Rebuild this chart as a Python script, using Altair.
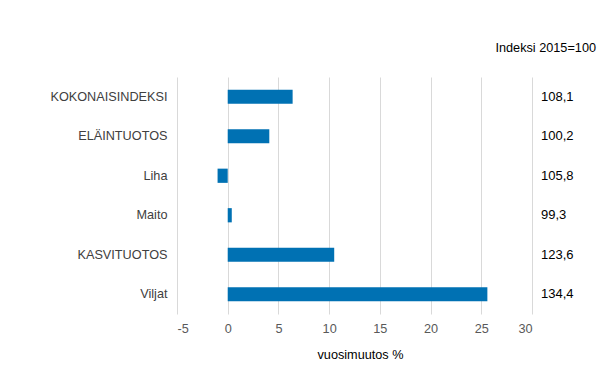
import altair as alt
import pandas as pd

categories = ["KOKONAISINDEKSI", "ELÄINTUOTOS", "Liha", "Maito", "KASVITUOTOS", "Viljat"]
changes = [6.4, 4.1, -1.0, 0.4, 10.5, 25.6]
index_labels = ["108,1", "100,2", "105,8", "99,3", "123,6", "134,4"]
header_text = "Indeksi 2015=100"
x_title = "vuosimuutos %"
x_ticks = [-5, 0, 5, 10, 15, 20, 25, 30]

df = pd.DataFrame({"cat": categories, "change": changes, "idx": index_labels})
hdr = pd.DataFrame({"t": [header_text]})

FONT = "Liberation Sans"

y_enc = alt.Y(
    "cat:N",
    sort=categories,
    title=None,
    scale=alt.Scale(paddingInner=0.64, paddingOuter=0.32),
    axis=alt.Axis(
        ticks=False, domain=False, grid=False, labelPadding=10,
        labelFont=FONT, labelFontSize=12.7, labelColor="#404040",
    ),
)

bars = alt.Chart(df).mark_bar(color="#0071b3").encode(
    x=alt.X(
        "change:Q",
        title=x_title,
        scale=alt.Scale(domain=[-5, 30], nice=False, zero=False),
        axis=alt.Axis(
            values=x_ticks, ticks=False, domain=False, grid=True,
            gridColor="#d9d9d9", gridWidth=1,
            labelExpr="replace(datum.label, '−', '-')",
            labelFont=FONT, labelFontSize=12.7, labelColor="#595959", labelPadding=8,
            titleFont=FONT, titleFontSize=12.7, titleFontWeight="normal",
            titleColor="#000000", titlePadding=14, titleX=183,
        ),
    ),
    y=y_enc,
)

values = alt.Chart(df).mark_text(
    align="left", baseline="middle", font=FONT, fontSize=13, color="#000000"
).encode(
    x=alt.value(364),
    y=alt.Y("cat:N", sort=categories),
    text="idx:N",
)

header = alt.Chart(hdr).mark_text(
    align="right", baseline="middle", font=FONT, fontSize=12.7, color="#000000"
).encode(
    x=alt.value(419),
    y=alt.value(-29),
    text="t:N",
)

chart = alt.layer(bars, values, header).properties(
    width=355,
    height=237,
    background="white",
    autosize=alt.AutoSizeParams(type="none"),
    padding={"left": 177, "top": 77, "right": 76, "bottom": 64},
).configure_view(stroke=None)

chart.save("out.html", embed_options={"renderer": "svg", "actions": False})
